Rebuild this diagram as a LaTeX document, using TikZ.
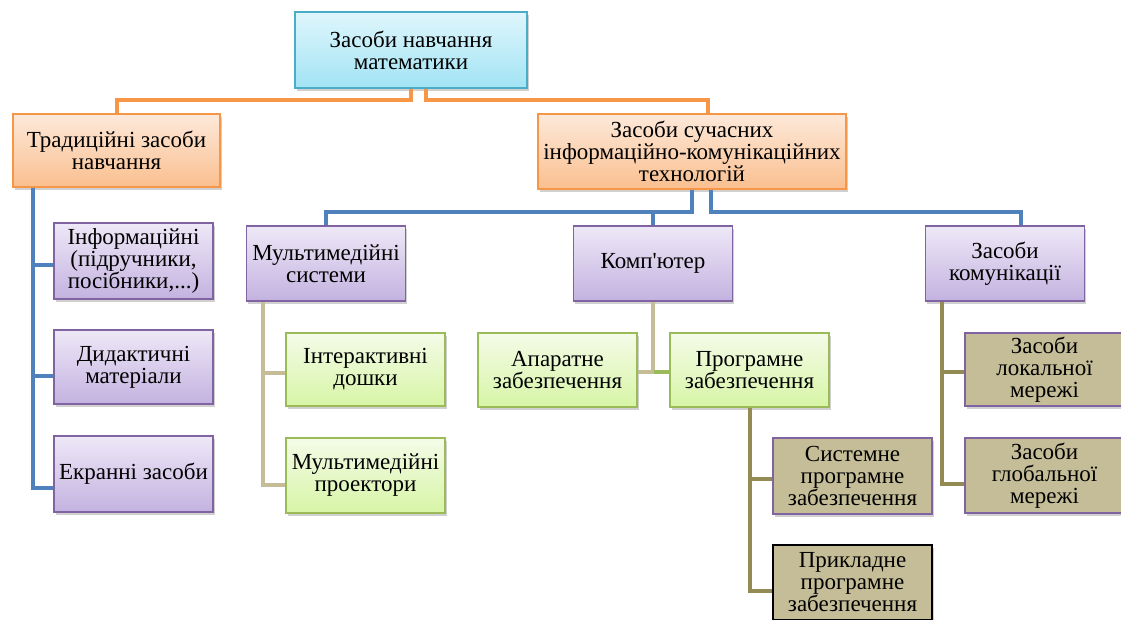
\documentclass[tikz,border=0pt]{standalone}
\usepackage{fontspec}
\setmainfont{Liberation Serif}
\newfontfamily\boxfont{Liberation Serif}
\usetikzlibrary{shadows}
\definecolor{cyanT}{HTML}{DFF6FC}
\definecolor{cyanB}{HTML}{A2E3F4}
\definecolor{cyanD}{HTML}{4BACC6}
\definecolor{oraT}{HTML}{FDE9DA}
\definecolor{oraB}{HTML}{FABF8F}
\definecolor{oraD}{HTML}{F79646}
\definecolor{purT}{HTML}{EEE8F7}
\definecolor{purB}{HTML}{C3B2E0}
\definecolor{purD}{HTML}{8064A2}
\definecolor{grnT}{HTML}{F4FBE8}
\definecolor{grnB}{HTML}{D7F5A6}
\definecolor{grnD}{HTML}{9BBB59}
\definecolor{tanF}{HTML}{C4BD97}
\definecolor{tanL}{HTML}{C4BD97}
\definecolor{oliveL}{HTML}{948A54}
\definecolor{blueL}{HTML}{4F81BD}
\begin{document}
\begin{tikzpicture}[x=1pt,y=-1pt,
  box/.style={draw, line width=1.5pt, minimum width=159pt, minimum height=75pt,
    inner sep=1pt, align=center, text=black,
    font=\boxfont\fontsize{23}{22}\selectfont,
    drop shadow={shadow xshift=1.5pt, shadow yshift=-3pt, opacity=0.3, fill=black!60}},
  cyanbox/.style={box, draw=cyanD, top color=cyanT, bottom color=cyanB},
  orabox/.style={box, draw=oraD, top color=oraT, bottom color=oraB},
  purbox/.style={box, draw=purD, top color=purT, bottom color=purB},
  grnbox/.style={box, draw=grnD, top color=grnT, bottom color=grnB},
  tanbox/.style={box, draw=purD, fill=tanF},
  conn/.style={line width=4pt},
  oraline/.style={conn, draw=oraD},
  blueline/.style={conn, draw=blueL},
  tanline/.style={conn, draw=tanL},
  oliveline/.style={conn, draw=oliveL},
  grnline/.style={conn, draw=grnD}]
\useasboundingbox[fill=white] (0,0) rectangle (1121,619);

% nodes
\node[cyanbox, minimum width=232pt, minimum height=76pt] (top) at (411,50) {Засоби навчання\\математики};
\node[orabox, minimum width=207pt, minimum height=73pt] (trad) at (116.5,150.5) {Традиційні засоби\\навчання};
\node[orabox, minimum width=308pt] (ict) at (692,151.5) {Засоби сучасних\\інформаційно-комунікаційних\\технологій};

\node[purbox, minimum height=76pt] (info) at (133.5,261) {Інформаційні\\(підручники,\\посібники,...)};
\node[purbox, minimum height=74pt] (did) at (133.5,367) {Дидактичні\\матеріали};
\node[purbox, minimum height=76pt] (ekr) at (133.5,474) {Екранні засоби};

\node[purbox] (mult) at (326,263.5) {Мультимедійні\\системи};
\node[purbox] (komp) at (653,263.5) {Комп\textquotesingle ютер};
\node[purbox] (comm) at (1005,263.5) {Засоби\\комунікації};

\node[grnbox, minimum height=73pt] (inter) at (365.5,369.5) {Інтерактивні\\дошки};
\node[grnbox] (proj) at (365.5,475.5) {Мультимедійні\\проектори};
\node[grnbox, minimum height=74pt] (apar) at (557.5,370) {Апаратне\\забезпечення};
\node[grnbox, minimum height=74pt] (prog) at (749.5,370) {Програмне\\забезпечення};

\node[tanbox, minimum height=76pt] (syst) at (852.5,476) {Системне\\програмне\\забезпечення};
\node[tanbox, draw=black] (prik) at (852.5,582.5) {Прикладне\\програмне\\забезпечення};
\node[tanbox, minimum height=73pt] (local) at (1044.5,369.5) {Засоби\\локальної\\мережі};
\node[tanbox] (global) at (1044.5,475.5) {Засоби\\глобальної\\мережі};

% connectors
\draw[oraline] (top.south) -- ++(0,11) -| (trad.north);
\draw[oraline] ([xshift=15pt]top.south) -- ++(0,11) -| ([xshift=16pt]ict.north);

\draw[blueline] (ict.south) -- ++(0,22) -| (mult.north);
\draw[blueline] (ict.south) -- ++(0,22) -| (komp.north);
\draw[blueline] ([xshift=19pt]ict.south) -- ++(0,22) -| ([xshift=16pt]comm.north);

\draw[blueline] ([xshift=-83.5pt]trad.south) |- ([yshift=-4pt]info.west);
\draw[blueline] ([xshift=-83.5pt]trad.south) |- ([yshift=-9pt]did.west);
\draw[blueline] ([xshift=-83.5pt]trad.south) |- ([yshift=-14pt]ekr.west);

\draw[tanline] ([xshift=-63pt]mult.south) |- ([yshift=-3.5pt]inter.west);
\draw[tanline] ([xshift=-63pt]mult.south) |- ([yshift=-9.5pt]proj.west);

\draw[tanline] (komp.south) |- ([yshift=-2pt]apar.east);
\draw[grnline] ([yshift=-2pt]prog.west) -- ++(-15,0);

\draw[oliveline] (prog.south) |- ([yshift=-3pt]syst.west);
\draw[oliveline] (prog.south) |- ([yshift=-8.5pt]prik.west);

\draw[oliveline] ([xshift=-63pt]comm.south) |- ([yshift=-2.5pt]local.west);
\draw[oliveline] ([xshift=-63pt]comm.south) |- ([yshift=-8.5pt]global.west);
\end{tikzpicture}
\end{document}
